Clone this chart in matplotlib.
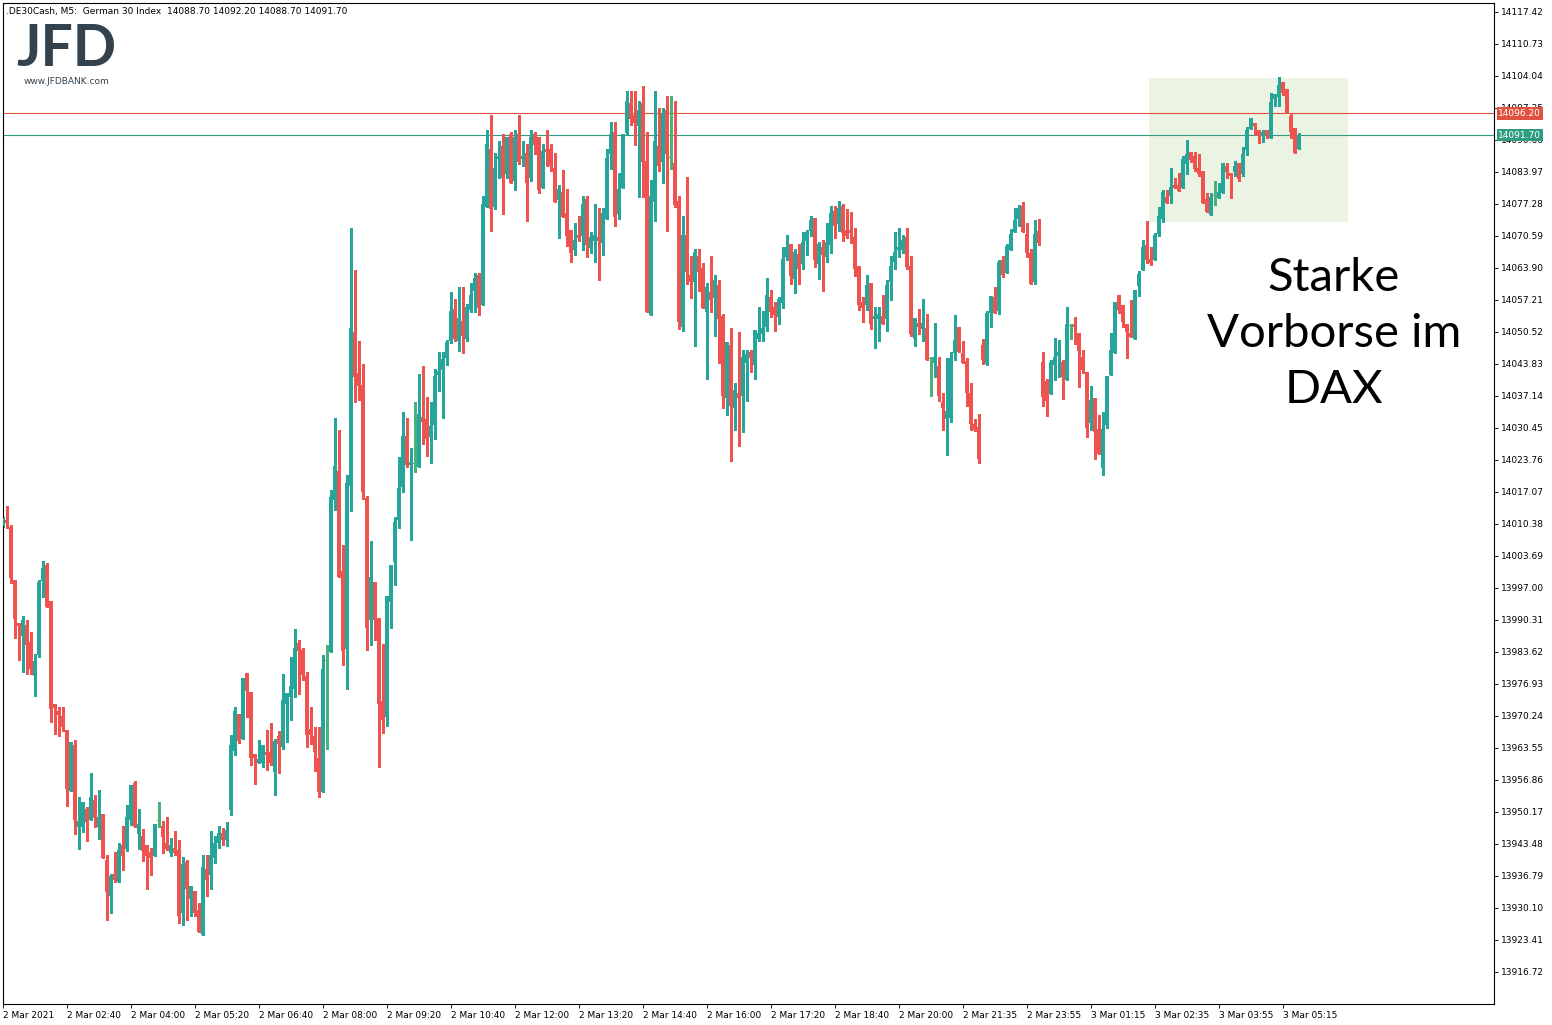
import matplotlib
matplotlib.use("Agg")
import matplotlib.pyplot as plt
from matplotlib.patches import Rectangle
import numpy as np

# DE30 5-minute candles, 2 Mar 2021 01:20 -> 3 Mar 2021 05:35
opens = [
    14010.0, 14011.2, 14009.8, 13998.7, 13989.7, 13987.0, 13989.3, 13985.7, 13978.6, 13983.0,
    13998.5, 14001.8, 13994.3, 13972.8, 13971.3, 13970.3, 13967.3, 13954.6, 13964.2, 13947.1,
    13947.1, 13950.8, 13948.5, 13952.7, 13947.1, 13949.8, 13940.2, 13932.6, 13937.2, 13935.6,
    13943.3, 13942.5, 13948.5, 13956.3, 13945.6, 13945.2, 13943.3, 13941.8, 13941.0, 13948.3,
    13947.3, 13943.7, 13941.6, 13942.7, 13942.3, 13929.1, 13939.7, 13932.0, 13933.7, 13929.7,
    13924.5, 13938.3, 13937.0, 13940.6, 13943.7, 13945.8, 13944.3, 13950.5, 13962.9, 13970.7,
    13965.5, 13979.2, 13975.3, 13962.3, 13960.4, 13960.4, 13962.7, 13962.7, 13958.6, 13966.1,
    13963.8, 13972.8, 13974.2, 13975.9, 13985.5, 13984.1, 13978.6, 13967.5, 13966.1, 13961.5,
    13954.4, 13981.8, 13983.6, 14015.4, 14021.5, 14000.6, 13984.3, 14018.3, 14050.5, 14041.9,
    14039.4, 14015.8, 13990.3, 13998.3, 13990.7, 13973.4, 13970.1, 13994.1, 14002.4, 14011.2,
    14018.1, 14028.8, 14022.7, 14022.9, 14022.3, 14032.8, 14032.3, 14028.6, 14031.1, 14041.5,
    14042.6, 14045.1, 14048.6, 14055.3, 14048.6, 14052.8, 14049.0, 14055.1, 14059.1, 14062.4,
    14056.2, 14076.6, 14088.8, 14076.6, 14086.7, 14089.4, 14083.5, 14091.9, 14082.1, 14091.9,
    14086.7, 14087.9, 14082.7, 14091.9, 14091.3, 14080.6, 14088.8, 14088.8, 14084.8, 14078.1,
    14079.8, 14075.4, 14071.8, 14067.7, 14070.8, 14070.6, 14078.3, 14068.1, 14069.5, 14070.4,
    14069.1, 14074.1, 14087.7, 14092.3, 14075.2, 14080.6, 14092.1, 14098.4, 14095.9, 14093.6,
    14098.4, 14086.3, 14054.1, 14077.7, 14089.4, 14086.0, 14096.9, 14086.9, 14085.8, 14077.9,
    14051.6, 14070.8, 14062.4, 14061.0, 14066.4, 14063.9, 14054.7, 14058.9, 14057.6, 14060.3,
    14053.9, 14036.7, 14047.8, 14034.6, 14037.8, 14037.1, 14044.0, 14046.3, 14043.6, 14049.0,
    14050.1, 14051.6, 14057.8, 14055.7, 14053.7, 14056.6, 14066.2, 14068.9, 14061.6, 14066.8,
    14064.7, 14069.5, 14071.6, 14074.3, 14064.7, 14068.3, 14066.2, 14068.7, 14075.8, 14073.1,
    14076.9, 14071.8, 14071.8, 14070.4, 14064.3, 14056.8, 14056.2, 14060.8, 14053.2, 14053.2,
    14053.9, 14053.2, 14061.0, 14065.1, 14067.7, 14067.7, 14070.4, 14064.3, 14049.0, 14052.4,
    14051.1, 14051.4, 14044.9, 14044.0, 14043.4, 14035.9, 14032.3, 14032.5, 14046.1, 14051.6,
    14046.1, 14044.5, 14037.8, 14031.3, 14030.7, 14047.8, 14043.8, 14054.5, 14057.8, 14054.9,
    14065.6, 14062.8, 14067.7, 14071.4, 14074.1, 14076.9, 14071.0, 14067.0, 14061.0, 14071.6,
    14044.2, 14040.3, 14037.6, 14043.6, 14045.5, 14044.2, 14040.5, 14051.8, 14052.2, 14050.3,
    14045.3, 14042.2, 14031.5, 14036.7, 14030.2, 14022.1, 14031.1, 14041.5, 14046.1, 14058.2,
    14056.2, 14052.2, 14050.3, 14049.0, 14060.1, 14063.5, 14068.7, 14065.8, 14065.6, 14071.0,
    14074.1, 14078.7, 14078.9, 14081.2, 14081.2, 14080.6, 14085.6, 14088.1, 14087.3, 14084.8,
    14084.2, 14078.3, 14075.0, 14078.9, 14078.5, 14079.6, 14085.2, 14083.7, 14084.0, 14085.8,
    14083.5, 14088.6, 14092.9, 14094.2, 14092.7, 14091.5, 14092.7, 14091.1, 14099.2, 14099.6,
    14102.8, 14101.3, 14095.7, 14093.2, 14088.7,
]
highs = [
    14011.9, 14014.1, 14010.2, 13998.7, 13989.7, 13991.2, 13990.3, 13987.8, 13983.2, 13998.7,
    14002.6, 14002.2, 13994.3, 13972.8, 13972.1, 13972.1, 13967.3, 13964.8, 13965.2, 13953.3,
    13952.3, 13951.2, 13958.3, 13953.7, 13954.8, 13949.8, 13941.2, 13937.2, 13941.8, 13943.7,
    13947.3, 13951.7, 13955.8, 13956.7, 13950.8, 13946.6, 13943.3, 13942.7, 13947.7, 13952.3,
    13948.3, 13949.2, 13944.8, 13946.2, 13944.3, 13940.8, 13940.2, 13934.7, 13933.7, 13931.2,
    13941.2, 13941.2, 13946.2, 13945.2, 13947.3, 13946.9, 13948.1, 13966.3, 13972.1, 13970.7,
    13978.2, 13979.2, 13975.3, 13962.3, 13965.2, 13964.2, 13967.3, 13968.8, 13965.5, 13967.1,
    13979.0, 13975.1, 13982.6, 13988.4, 13986.1, 13984.5, 13979.5, 13972.1, 13968.0, 13968.0,
    13983.0, 13985.1, 14017.5, 14032.5, 14030.0, 14006.0, 14020.6, 14072.3, 14063.5, 14048.6,
    14043.8, 14016.2, 14006.8, 13998.3, 13990.7, 13985.3, 13995.3, 14001.8, 14011.9, 14024.4,
    14033.8, 14032.5, 14026.3, 14035.9, 14041.7, 14043.4, 14036.9, 14035.9, 14042.8, 14046.3,
    14046.3, 14048.8, 14058.9, 14057.4, 14059.9, 14059.9, 14056.4, 14060.8, 14062.8, 14062.8,
    14078.9, 14092.7, 14095.9, 14087.9, 14090.4, 14091.9, 14091.3, 14092.3, 14092.7, 14095.9,
    14090.4, 14089.8, 14092.7, 14092.3, 14091.3, 14089.8, 14092.7, 14089.8, 14087.9, 14081.2,
    14084.4, 14080.4, 14071.8, 14073.3, 14074.8, 14078.9, 14078.9, 14071.4, 14077.3, 14076.4,
    14076.4, 14088.8, 14094.4, 14094.4, 14083.7, 14091.9, 14100.9, 14100.9, 14100.9, 14098.8,
    14101.9, 14092.3, 14082.3, 14100.9, 14097.3, 14097.3, 14099.8, 14099.8, 14098.8, 14078.9,
    14074.8, 14082.9, 14066.4, 14067.9, 14067.9, 14064.9, 14060.8, 14066.4, 14062.4, 14061.4,
    14054.3, 14048.4, 14051.4, 14039.9, 14050.5, 14046.8, 14046.8, 14046.8, 14050.9, 14055.7,
    14054.9, 14061.8, 14059.3, 14056.8, 14057.8, 14068.3, 14070.8, 14068.9, 14067.9, 14068.9,
    14071.4, 14071.8, 14074.8, 14074.3, 14069.3, 14069.7, 14073.3, 14076.9, 14076.9, 14077.9,
    14077.3, 14076.2, 14075.6, 14072.3, 14064.3, 14057.8, 14062.4, 14060.8, 14055.7, 14055.7,
    14058.2, 14061.4, 14066.4, 14071.4, 14072.3, 14070.8, 14072.3, 14066.4, 14053.4, 14055.3,
    14057.4, 14054.3, 14045.3, 14052.4, 14045.3, 14037.8, 14045.1, 14046.3, 14054.1, 14051.6,
    14048.6, 14045.1, 14039.9, 14032.3, 14033.4, 14049.0, 14054.9, 14058.0, 14059.9, 14065.6,
    14066.4, 14068.9, 14072.0, 14076.4, 14077.1, 14077.7, 14073.3, 14067.9, 14073.9, 14074.1,
    14046.3, 14040.7, 14044.7, 14049.3, 14048.8, 14044.7, 14055.7, 14052.2, 14053.7, 14050.3,
    14046.8, 14042.2, 14039.2, 14036.7, 14033.2, 14033.8, 14041.3, 14050.3, 14056.8, 14058.2,
    14056.2, 14052.2, 14057.2, 14059.3, 14063.3, 14069.7, 14073.7, 14068.3, 14071.2, 14076.6,
    14080.2, 14080.2, 14084.8, 14082.7, 14083.7, 14087.3, 14090.6, 14088.1, 14088.1, 14087.7,
    14084.2, 14079.6, 14079.6, 14082.1, 14081.7, 14085.8, 14085.8, 14083.7, 14086.3, 14085.8,
    14089.2, 14093.4, 14095.2, 14094.2, 14092.7, 14092.7, 14092.7, 14100.5, 14100.3, 14103.8,
    14102.8, 14101.3, 14096.3, 14093.2, 14092.2,
]
lows = [
    14009.8, 14009.5, 13998.0, 13986.6, 13982.0, 13979.5, 13979.0, 13979.0, 13974.4, 13982.6,
    13995.1, 13993.0, 13969.0, 13966.5, 13966.1, 13967.1, 13951.4, 13954.6, 13945.6, 13942.5,
    13946.0, 13944.1, 13948.5, 13947.1, 13944.5, 13940.6, 13927.6, 13929.1, 13935.6, 13935.6,
    13938.1, 13942.0, 13947.5, 13947.1, 13942.5, 13940.0, 13934.1, 13937.0, 13941.0, 13947.1,
    13941.6, 13942.3, 13941.0, 13941.2, 13927.0, 13926.6, 13927.6, 13928.5, 13928.5, 13925.1,
    13924.5, 13932.6, 13934.1, 13939.5, 13942.7, 13943.3, 13943.1, 13949.6, 13962.1, 13964.5,
    13965.5, 13970.1, 13960.0, 13956.0, 13960.4, 13959.6, 13959.0, 13960.0, 13953.7, 13958.3,
    13963.4, 13964.8, 13969.4, 13974.2, 13974.9, 13977.8, 13963.8, 13964.4, 13958.8, 13953.3,
    13954.4, 13963.4, 13983.6, 14013.3, 13999.3, 13980.9, 13975.9, 14013.1, 14035.9, 14036.3,
    14015.6, 13984.1, 13985.1, 13986.1, 13959.6, 13966.7, 13968.2, 13988.6, 13997.6, 14009.5,
    14017.1, 14022.3, 14007.0, 14021.3, 14022.3, 14027.1, 14024.6, 14023.1, 14028.2, 14038.2,
    14032.5, 14043.6, 14048.2, 14048.6, 14046.5, 14046.1, 14048.6, 14054.7, 14054.7, 14054.1,
    14056.2, 14076.6, 14071.6, 14076.2, 14082.7, 14075.2, 14082.7, 14081.7, 14080.2, 14085.6,
    14085.2, 14073.7, 14082.1, 14087.7, 14079.6, 14080.6, 14085.2, 14084.2, 14077.7, 14070.2,
    14074.6, 14068.5, 14065.1, 14066.6, 14069.5, 14067.7, 14066.2, 14067.0, 14065.1, 14061.4,
    14066.6, 14074.1, 14084.6, 14072.7, 14074.1, 14080.6, 14091.9, 14093.8, 14089.6, 14078.7,
    14078.7, 14054.7, 14054.1, 14073.7, 14084.2, 14081.7, 14071.6, 14084.6, 14076.6, 14051.1,
    14050.7, 14060.5, 14057.6, 14047.6, 14059.1, 14055.5, 14040.7, 14054.7, 14049.7, 14044.0,
    14034.6, 14033.2, 14023.6, 14030.0, 14026.7, 14029.6, 14036.1, 14042.2, 14040.7, 14048.6,
    14048.6, 14050.7, 14053.7, 14050.7, 14052.2, 14055.5, 14065.6, 14060.5, 14058.7, 14060.5,
    14063.7, 14066.6, 14070.6, 14064.1, 14061.6, 14059.1, 14065.1, 14067.0, 14070.2, 14071.6,
    14069.5, 14070.2, 14069.1, 14062.2, 14055.1, 14052.6, 14055.1, 14051.1, 14047.2, 14048.6,
    14052.2, 14050.7, 14057.2, 14063.7, 14066.2, 14067.0, 14063.7, 14049.7, 14047.6, 14050.1,
    14048.6, 14044.7, 14037.1, 14041.1, 14036.1, 14030.0, 14024.8, 14031.7, 14044.7, 14046.3,
    14044.0, 14035.1, 14030.0, 14029.8, 14023.1, 14043.8, 14043.6, 14051.6, 14054.5, 14054.3,
    14062.0, 14062.8, 14067.7, 14071.4, 14072.7, 14071.4, 14066.2, 14060.5, 14060.5, 14068.7,
    14035.1, 14033.0, 14037.6, 14040.5, 14041.1, 14036.5, 14040.5, 14049.0, 14048.0, 14039.0,
    14041.9, 14028.6, 14030.0, 14024.0, 14025.0, 14020.6, 14030.5, 14041.5, 14046.1, 14054.5,
    14051.6, 14045.1, 14049.5, 14049.0, 14058.0, 14063.5, 14064.9, 14064.5, 14065.6, 14070.6,
    14073.5, 14077.5, 14077.5, 14080.6, 14080.0, 14080.6, 14083.5, 14086.0, 14084.2, 14083.1,
    14077.5, 14075.6, 14075.0, 14077.1, 14078.5, 14079.6, 14082.7, 14078.5, 14083.1, 14082.1,
    14083.1, 14087.5, 14092.9, 14091.7, 14090.0, 14090.2, 14091.1, 14091.1, 14097.7, 14097.7,
    14100.0, 14096.3, 14091.1, 14087.9, 14088.7,
]
closes = [
    14011.6, 14010.6, 13999.1, 13990.5, 13989.1, 13990.3, 13985.1, 13980.1, 13981.8, 13998.3,
    14001.2, 13993.0, 13971.7, 13971.9, 13970.5, 13968.0, 13955.0, 13964.8, 13948.5, 13948.3,
    13952.3, 13948.1, 13953.3, 13948.9, 13949.2, 13940.6, 13933.5, 13936.8, 13936.0, 13942.3,
    13941.0, 13949.2, 13955.8, 13947.1, 13947.7, 13942.0, 13941.0, 13940.6, 13947.7, 13948.4,
    13945.0, 13942.5, 13943.3, 13941.6, 13928.5, 13939.3, 13934.1, 13934.7, 13929.1, 13925.1,
    13938.7, 13936.0, 13941.2, 13943.7, 13945.8, 13944.3, 13946.4, 13964.2, 13971.3, 13965.0,
    13978.2, 13975.5, 13961.5, 13961.5, 13961.3, 13964.2, 13962.1, 13960.4, 13965.0, 13964.4,
    13973.6, 13975.1, 13976.5, 13984.5, 13983.8, 13978.8, 13966.3, 13966.3, 13962.7, 13954.4,
    13980.1, 13982.0, 14016.0, 14022.5, 13999.3, 13983.8, 14019.0, 14051.4, 14041.1, 14039.2,
    14017.1, 13988.6, 13999.3, 13990.3, 13972.8, 13969.4, 13995.3, 14001.8, 14010.8, 14017.9,
    14028.8, 14022.7, 14023.3, 14023.1, 14033.4, 14031.7, 14028.2, 14030.9, 14041.3, 14042.4,
    14044.9, 14048.4, 14054.9, 14049.0, 14053.4, 14049.7, 14055.7, 14058.2, 14061.8, 14055.5,
    14077.3, 14089.8, 14076.2, 14084.8, 14087.3, 14082.7, 14091.3, 14081.7, 14091.3, 14086.0,
    14087.3, 14081.7, 14091.3, 14089.6, 14080.2, 14088.3, 14088.1, 14085.2, 14077.7, 14080.4,
    14074.6, 14070.6, 14067.0, 14069.7, 14070.2, 14077.3, 14068.7, 14070.4, 14070.8, 14069.5,
    14075.4, 14086.9, 14091.9, 14074.6, 14080.4, 14091.9, 14098.8, 14095.0, 14094.2, 14096.9,
    14086.0, 14054.7, 14078.9, 14090.4, 14085.2, 14096.3, 14087.7, 14087.0, 14077.1, 14052.6,
    14070.8, 14063.1, 14061.0, 14067.2, 14063.1, 14055.5, 14059.9, 14057.2, 14061.4, 14053.2,
    14037.1, 14048.4, 14035.1, 14038.4, 14036.7, 14045.3, 14045.9, 14045.1, 14050.9, 14050.3,
    14051.4, 14058.2, 14054.7, 14054.1, 14057.4, 14065.8, 14068.3, 14062.2, 14067.2, 14063.7,
    14069.3, 14071.4, 14073.9, 14065.6, 14068.9, 14066.6, 14069.3, 14075.4, 14072.7, 14076.4,
    14071.2, 14070.6, 14071.2, 14063.7, 14056.2, 14055.5, 14060.3, 14052.2, 14053.9, 14054.3,
    14052.2, 14060.3, 14064.3, 14067.2, 14068.3, 14069.7, 14064.1, 14050.1, 14053.4, 14051.6,
    14052.4, 14044.7, 14045.0, 14045.3, 14037.1, 14034.6, 14034.0, 14045.1, 14048.8, 14046.3,
    14044.0, 14037.8, 14031.3, 14030.0, 14024.0, 14044.7, 14054.5, 14058.0, 14054.5, 14065.1,
    14062.4, 14068.5, 14071.0, 14073.9, 14076.4, 14071.4, 14067.0, 14060.5, 14071.0, 14069.1,
    14036.9, 14036.1, 14044.2, 14045.3, 14046.3, 14041.1, 14052.2, 14051.9, 14051.6, 14046.5,
    14042.6, 14030.5, 14036.3, 14029.6, 14025.0, 14030.2, 14041.3, 14046.8, 14056.8, 14055.1,
    14052.6, 14050.5, 14049.5, 14059.3, 14062.6, 14068.3, 14065.6, 14064.9, 14070.8, 14074.8,
    14079.8, 14077.5, 14080.8, 14080.6, 14080.0, 14086.7, 14087.7, 14086.5, 14084.6, 14083.5,
    14077.5, 14075.6, 14078.7, 14079.0, 14079.8, 14085.8, 14084.0, 14083.1, 14085.2, 14082.5,
    14087.7, 14092.7, 14095.2, 14093.6, 14091.7, 14092.3, 14091.7, 14098.6, 14100.3, 14102.1,
    14100.5, 14096.3, 14092.3, 14087.9, 14091.7,
]

time_labels = ["2 Mar 2021", "2 Mar 02:40", "2 Mar 04:00", "2 Mar 05:20", "2 Mar 06:40",
               "2 Mar 08:00", "2 Mar 09:20", "2 Mar 10:40", "2 Mar 12:00", "2 Mar 13:20",
               "2 Mar 14:40", "2 Mar 16:00", "2 Mar 17:20", "2 Mar 18:40", "2 Mar 20:00",
               "2 Mar 21:35", "2 Mar 23:55", "3 Mar 01:15", "3 Mar 02:35", "3 Mar 03:55",
               "3 Mar 05:15"]
price_ticks = [13916.72 + 6.69 * i for i in range(31)]

ask_price = 14096.20
bid_price = 14091.70
box_first, box_last = 286.7, 336.4      # candle index range of the highlight
box_low, box_high = 14073.5, 14103.6

UP = "#26A69A"
DOWN = "#EF5350"
DOJI = "#4CB07A"

o = np.array(opens); h = np.array(highs); l = np.array(lows); c = np.array(closes)
x = np.arange(len(o))
colors = np.where(np.abs(c - o) < 0.25, DOJI, np.where(c >= o, UP, DOWN))

fig = plt.figure(figsize=(15.52, 10.25), dpi=100)
ax = fig.add_axes([3 / 1552, 1 - 1004 / 1025, 1491 / 1552, 1001 / 1025])

ax.add_patch(Rectangle((box_first, box_low), box_last - box_first, box_high - box_low,
                       facecolor="#EBF3E2", edgecolor="none", zorder=0))

ax.vlines(x, l, h, colors=colors, linewidth=0.75, zorder=2, antialiased=False)
body = np.maximum(np.abs(c - o), 0.21)
ax.bar(x, body, bottom=np.minimum(o, c), width=0.75, color=colors,
       linewidth=0, zorder=3, antialiased=False)

ax.axhline(ask_price, color="#E0523F", linewidth=0.8, zorder=1)
ax.axhline(bid_price, color="#2E9C80", linewidth=0.8, zorder=1)

# candle centres fall on pixel x = 2.5 + 4k
ax.set_xlim((3 - 2.5) / 4, (1494 - 2.5) / 4)
ax.set_ylim(13910.03, 14119.30)

ax.yaxis.tick_right()
ax.set_yticks(price_ticks)
ax.set_yticklabels([f"{p:.2f}" for p in price_ticks], fontsize=6.5)
ax.set_xticks(np.arange(len(time_labels)) * 16)
ax.set_xticklabels(time_labels, fontsize=6.5, ha="left")
ax.tick_params(axis="both", length=3, width=0.6, pad=2)
for s in ax.spines.values():
    s.set_linewidth(0.8)

for price, col in [(ask_price, "#E0523F"), (bid_price, "#2E9C80")]:
    ax.annotate(f"{price:.2f}", xy=(1.0, price), xycoords=("axes fraction", "data"),
                xytext=(3, 0), textcoords="offset points", ha="left", va="center",
                fontsize=6.5, color="white", zorder=10,
                bbox=dict(boxstyle="square,pad=0.18", fc=col, ec="none"))

ax.text(0.002, 0.996, ".DE30Cash, M5:  German 30 Index  14088.70 14092.20 14088.70 14091.70",
        transform=ax.transAxes, fontsize=6.5, va="top", ha="left")

fig.text(66 / 1552, 1 - 50 / 1025, "JFD", fontsize=41, fontweight="bold",
         color="#34424D", ha="center", va="center", family="Lato")
fig.text(66 / 1552, 1 - 81 / 1025, "www.JFDBANK.com", fontsize=6.5,
         color="#34424D", ha="center", va="center")

fig.text(1334 / 1552, 1 - 334 / 1025, "Starke\nVorborse im\nDAX", fontsize=34,
         family="Lato", ha="center", va="center", linespacing=1.4, color="black")

fig.savefig("out.png", dpi=100)
